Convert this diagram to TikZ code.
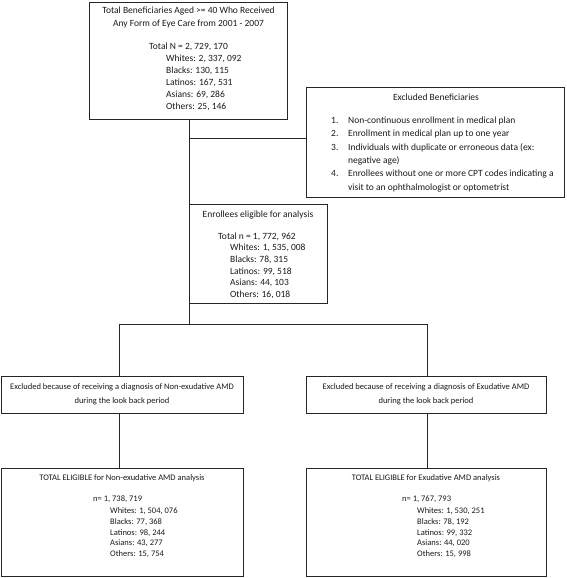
\documentclass[tikz,border=0pt]{standalone}
\usepackage{fontspec}
\setmainfont{Carlito}
\begin{document}
\begin{tikzpicture}[x=1pt,y=-1pt,
  box/.style={draw=black!85, line width=0.8pt, inner sep=0pt, outer sep=0pt},
  conn/.style={draw=black!85, line width=0.8pt},
  big/.style={font=\fontsize{9.5}{11}\selectfont, inner sep=0pt, text=black!90},
  sml/.style={font=\fontsize{8.5}{10}\selectfont, inner sep=0pt, text=black!90}]
\useasboundingbox (0,0) rectangle (566,578);
% boxes
\node[box, minimum width=198pt, minimum height=117pt] (top) at (188.5,60.5) {};
\node[box, minimum width=258pt, minimum height=110pt] (ex) at (435,142) {};
\node[box, minimum width=138pt, minimum height=99pt] (en) at (258,253.5) {};
\node[box, minimum width=242pt, minimum height=37pt] (xl) at (122,394.5) {};
\node[box, minimum width=240pt, minimum height=37pt] (xr) at (426,394.5) {};
\node[box, minimum width=242pt, minimum height=108pt] (bl) at (122,522) {};
\node[box, minimum width=240pt, minimum height=108pt] (br) at (426,522) {};
% connector points
\coordinate (cx) at (189,138);
\coordinate (hj) at (189,324);
\coordinate (hl) at (119,324);
\coordinate (hr) at (427,324);
\draw[conn] (top.south -| hj) -- (hj);
\draw[conn] (cx) -- (cx -| ex.west);
\draw[conn] (hl) -- (hr);
\draw[conn] (hl) -- (hl |- xl.north);
\draw[conn] (hr) -- (hr |- xr.north);
\draw[conn] (hl |- xl.south) -- (hl |- bl.north);
\draw[conn] (hr |- xr.south) -- (hr |- br.north);
% top box text
\node[big, anchor=base] (t1) at (188.5,14) {Total Beneficiaries Aged >= 40 Who Received};
\node[big, anchor=base] (t2) at (188.5,27) {Any Form of Eye Care from 2001 - 2007};
\node[big, anchor=base west] (t3) at (149,50) {Total N = 2, 729, 170};
\node[big, anchor=base west] (t4) at (166,62) {Whites: 2, 337, 092};
\node[big, anchor=base west] (t5) at (166,74) {Blacks: 130, 115};
\node[big, anchor=base west] (t6) at (166,85.5) {Latinos: 167, 531};
\node[big, anchor=base west] (t7) at (166,97) {Asians: 69, 286};
\node[big, anchor=base west] (t8) at (166,109) {Others: 25, 146};
% exclusion box text
\node[big, anchor=base] (e0) at (436,100) {Excluded Beneficiaries};
\node[big, anchor=base west] (e1n) at (331,123.5) {1.};
\node[big, anchor=base west] (e1) at (348,123.5) {Non-continuous enrollment in medical plan};
\node[big, anchor=base west] (e2n) at (331,136.5) {2.};
\node[big, anchor=base west] (e2) at (348,136.5) {Enrollment in medical plan up to one year};
\node[big, anchor=base west] (e3n) at (331,150) {3.};
\node[big, anchor=base west] (e3) at (348,150) {Individuals with duplicate or erroneous data (ex:};
\node[big, anchor=base west] (e3b) at (348,163) {negative age)};
\node[big, anchor=base west] (e4n) at (331,176.5) {4.};
\node[big, anchor=base west] (e4) at (348,176.5) {Enrollees without one or more CPT codes indicating a};
\node[big, anchor=base west] (e4b) at (348,190) {visit to an ophthalmologist or optometrist};
% enrollees box text
\node[big, anchor=base] (n0) at (258,217) {Enrollees eligible for analysis};
\node[big, anchor=base west] (n1) at (218,239) {Total n = 1, 772, 962};
\node[big, anchor=base west] (n2) at (230,250.5) {Whites: 1, 535, 008};
\node[big, anchor=base west] (n3) at (230,262) {Blacks: 78, 315};
\node[big, anchor=base west] (n4) at (230,274) {Latinos: 99, 518};
\node[big, anchor=base west] (n5) at (230,285.5) {Asians: 44, 103};
\node[big, anchor=base west] (n6) at (230,297) {Others: 16, 018};
% excluded AMD boxes
\node[sml, anchor=base] (l1) at (122,389) {Excluded because of receiving a diagnosis of Non-exudative AMD};
\node[sml, anchor=base] (l2) at (122,403) {during the look back period};
\node[sml, anchor=base] (r1) at (426,389) {Excluded because of receiving a diagnosis of Exudative AMD};
\node[sml, anchor=base] (r2) at (426,403) {during the look back period};
% bottom left
\node[sml, anchor=base] (a0) at (122,480) {TOTAL ELIGIBLE for Non-exudative AMD analysis};
\node[sml, anchor=base west] (a1) at (93,501) {n= 1, 738, 719};
\node[sml, anchor=base west] (a2) at (110,513) {Whites: 1, 504, 076};
\node[sml, anchor=base west] (a3) at (110,524) {Blacks: 77, 368};
\node[sml, anchor=base west] (a4) at (110,535) {Latinos: 98, 244};
\node[sml, anchor=base west] (a5) at (110,545.5) {Asians: 43, 277};
\node[sml, anchor=base west] (a6) at (110,556) {Others: 15, 754};
% bottom right
\node[sml, anchor=base] (b0) at (426,480) {TOTAL ELIGIBLE for Exudative AMD analysis};
\node[sml, anchor=base west] (b1) at (402,501) {n= 1, 767, 793};
\node[sml, anchor=base west] (b2) at (417,513) {Whites: 1, 530, 251};
\node[sml, anchor=base west] (b3) at (417,524) {Blacks: 78, 192};
\node[sml, anchor=base west] (b4) at (417,535) {Latinos: 99, 332};
\node[sml, anchor=base west] (b5) at (417,545.5) {Asians: 44, 020};
\node[sml, anchor=base west] (b6) at (417,556) {Others: 15, 998};
\end{tikzpicture}
\end{document}
